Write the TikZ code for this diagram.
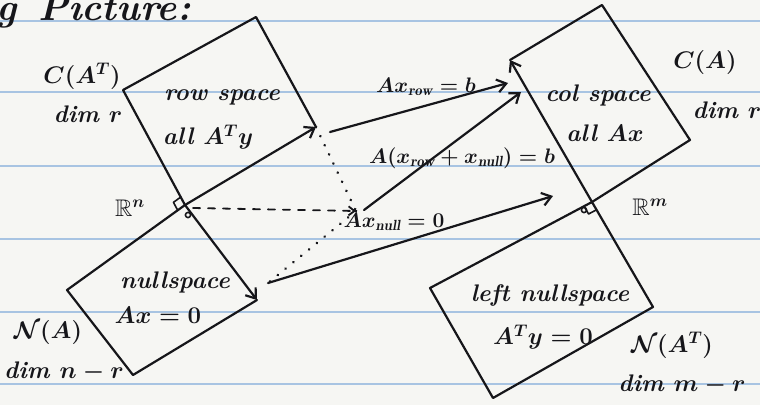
\documentclass[tikz,border=0pt]{standalone}
\usepackage{fix-cm}
\usepackage{amssymb}
\usepackage{fontspec}
\usetikzlibrary{arrows.meta,calc}
\definecolor{inkc}{RGB}{22,22,26}
\definecolor{paperc}{RGB}{246,246,243}
\definecolor{rulec}{RGB}{168,196,226}
\begin{document}
\begin{tikzpicture}[x=1pt,y=-1pt,
  ink/.style={line width=2.2pt, draw=inkc, line cap=round, line join=round},
  arr/.style={ink, -{Straight Barb[length=9pt,width=13pt,line width=2.2pt]}},
  dashline/.style={ink, line width=1.8pt, dash pattern=on 7pt off 8pt},
  dotline/.style={ink, line width=2.8pt, dash pattern=on 0.1pt off 10pt},
  lbl/.style={font=\fontsize{24}{26}\selectfont\bfseries\itshape\boldmath, text=inkc, inner sep=0pt},
  mlbl/.style={font=\fontsize{21}{24}\selectfont\bfseries\itshape\boldmath, text=inkc, inner sep=0pt},
  biglbl/.style={font=\fontsize{38}{40}\selectfont\bfseries\itshape, text=inkc, inner sep=0pt},
  rulel/.style={draw=rulec, line width=1.2pt}]
\fill[paperc] (0,0) rectangle (760,405);
\useasboundingbox (0,0) rectangle (760,405);
\clip (0,0) rectangle (760,405);
\foreach \y in {21,92,166,239,312,384} \draw[rulel] (0,\y) -- (760,\y);

% corners
\coordinate (O1) at (185,205);
\coordinate (rL) at (123,90);
\coordinate (rT) at (256,17);
\coordinate (rR) at (316,127);
\coordinate (nR) at (257,300);
\coordinate (nB) at (133,375);
\coordinate (nL) at (67,290);
\coordinate (O2) at (592,202);
\coordinate (cL) at (510,60);
\coordinate (cT) at (602,5);
\coordinate (cR) at (690,140);
\coordinate (lR) at (653,307);
\coordinate (lB) at (493,398);
\coordinate (lL) at (430,288);
\coordinate (X) at (356,211);
\coordinate (a1s) at (330,132);
\coordinate (a1e) at (508,83);
\coordinate (a2s) at (364,210);
\coordinate (a2e) at (521,92);
\coordinate (a3s) at (268,283);
\coordinate (a3e) at (553,196);

% row space
\draw[ink] (O1) -- (rL) -- (rT) -- (rR);
\draw[arr] (O1) -- (rR);
% nullspace
\draw[arr] (O1) -- (nR);
\draw[ink] (nR) -- (nB) -- (nL) -- (O1);
% column space
\draw[arr] (O2) -- (cL);
\draw[ink] (cL) -- (cT) -- (cR) -- (O2);
% left nullspace
\draw[ink] (O2) -- (lR) -- (lB) -- (lL) -- cycle;

% right-angle marks
\draw[ink, line width=1.6pt] ($(O1)!9pt!(rL)$) -- ($($(O1)!9pt!(rL)$)+($(O1)!9pt!(nL)$)-(O1)$) -- ($(O1)!9pt!(nL)$);
\draw[ink, line width=1.6pt] ($(O1)+(3,10)$) circle (2.6pt);
\draw[ink, line width=1.6pt] ($(O2)!9pt!(lL)$) -- ($($(O2)!9pt!(lL)$)+($(O2)!9pt!(lR)$)-(O2)$) -- ($(O2)!9pt!(lR)$);
\draw[ink, line width=1.6pt] ($(O2)+(-8,8)$) circle (2.6pt);

% x = x_row + x_null
\draw[dashline, -{Straight Barb[length=6pt,width=9pt,line width=1.8pt]}] ($(O1)+(8,3)$) -- (X);
\draw[dotline] (rR) -- (X);
\draw[dotline] (X) -- (a3s);

% mappings
\draw[arr] (a1s) -- (a1e);
\draw[arr] (a2s) -- (a2e);
\draw[arr] (a3s) -- (a3e);

% labels
\node[biglbl, anchor=base west] (tg) at (-4,20) {g};
\node[biglbl, anchor=base west] (tpic) at (38,20) {Picture:};
\node[lbl] (cat) at (82,76) {$C(A^{T})$};
\node[lbl] (dimr1) at (88,114) {dim $r$};
\node[lbl] (rows) at (222,97) {row space};
\node[lbl] (allaty) at (208,137) {all $A^{T}y$};
\node[lbl] (rn) at (130,208) {$\mathbb{R}^{n}$};
\node[lbl] (nulls) at (175,282) {nullspace};
\node[lbl] (axz) at (158,315) {$Ax=0$};
\node[lbl] (na) at (48,332) {$\mathcal{N}(A)$};
\node[lbl] (dimnr) at (64,372) {dim $n-r$};
\node[mlbl] (axrow) at (426,87) {$Ax_{\mathit{row}}=b$};
\node[mlbl] (axsum) at (462,158) {$A(x_{\mathit{row}}+x_{\mathit{null}})=b$};
\node[mlbl] (axnull) at (394,222) {$Ax_{\mathit{null}}=0$};
\node[lbl] (cols) at (598,95) {col space};
\node[lbl] (allax) at (605,133) {all $Ax$};
\node[lbl] (ca) at (705,62) {$C(A)$};
\node[lbl] (dimr2) at (727,110) {dim $r$};
\node[lbl] (rm) at (650,207) {$\mathbb{R}^{m}$};
\node[lbl] (lnulls) at (550,295) {left nullspace};
\node[lbl] (atyz) at (543,337) {$A^{T}y=0$};
\node[lbl] (nat) at (672,345) {$\mathcal{N}(A^{T})$};
\node[lbl] (dimmr) at (682,385) {dim $m-r$};
\end{tikzpicture}
\end{document}
